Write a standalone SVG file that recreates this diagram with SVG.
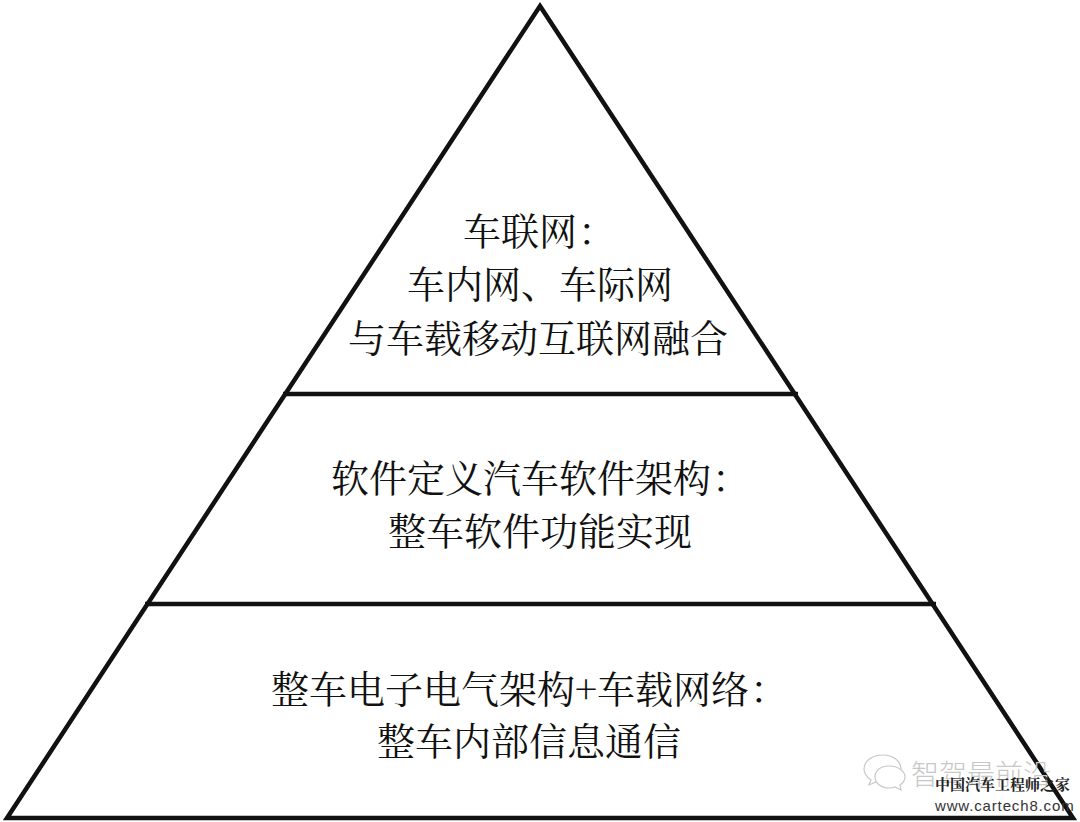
<svg xmlns="http://www.w3.org/2000/svg" width="1080" height="822" viewBox="0 0 1080 822">
<style>
.t{font-family:"Noto Serif CJK SC","Noto Sans CJK SC","Liberation Serif",serif;font-size:38px;fill:#111}
.l{stroke:#111;stroke-width:4.5;fill:none}
.w{font-family:"Noto Sans CJK SC",sans-serif;font-size:28px;font-weight:300;fill:#c8c8c8}
.m{font-family:"Noto Serif CJK SC","Noto Sans CJK SC",serif;font-weight:700;font-size:15px;fill:#222}
.u{font-family:"Liberation Sans",sans-serif;font-size:15px;letter-spacing:.85px;fill:#333}
.i{stroke:#c8c8c8;stroke-width:1.2;fill:#fff}
</style>
<rect width="1080" height="822" fill="#fff"/>
<g id="connectors">
<path class="l" d="M540 6 L1073 818 L7 818 Z"/>
<path class="l" d="M283 394 H798"/>
<path class="l" d="M145 604 H936"/>
</g>
<g id="top"><text class="t" x="463" y="245">车联网<tspan x="578">：</tspan></text><text class="t" x="407" y="298">车内网、车际网</text><text class="t" x="348" y="352">与车载移动互联网融合</text></g>
<g id="middle"><text class="t" x="331" y="492">软件定义汽车软件架构<tspan x="712">：</tspan></text><text class="t" x="388" y="545">整车软件功能实现</text></g>
<g id="bottom"><text class="t" x="271" y="703">整车电子电气架构+车载网络<tspan x="750">：</tspan></text><text class="t" x="377" y="755">整车内部信息通信</text></g>
<g id="watermark">
<path class="i" d="M883 755 C872 755 864 761 864 769 C864 774 867 777 871 780 L869 785 L876 782 C878 783 881 783 883 783 C892 783 901 777 901 769 C901 761 893 755 883 755 Z"/>
<path class="i" d="M889 766 C880 766 875 771 875 777 C875 783 881 788 889 788 C891 788 893 788 895 787 L901 790 L900 785 C903 783 905 780 905 777 C905 771 898 766 889 766 Z"/>
<text class="w" x="911" y="785">智驾最前沿</text>
<text class="m" x="935" y="790">中国汽车工程师之家</text>
<text class="u" x="935" y="811">www.cartech8.com</text>
</g>
</svg>
